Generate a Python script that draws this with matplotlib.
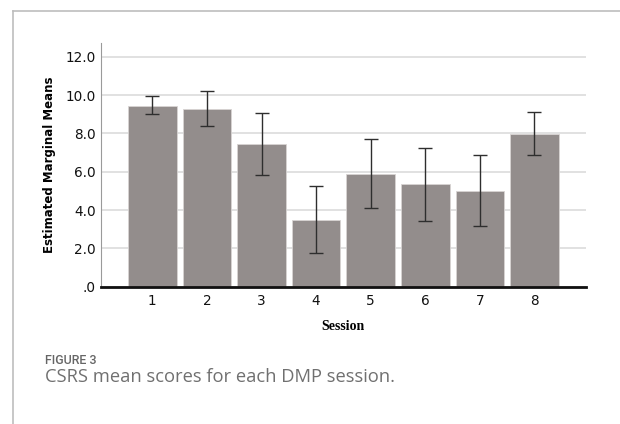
import matplotlib
matplotlib.use("Agg")
import matplotlib.pyplot as plt
from matplotlib.lines import Line2D

sessions = ["1", "2", "3", "4", "5", "6", "7", "8"]
means = [9.44, 9.29, 7.43, 3.48, 5.88, 5.34, 5.01, 7.98]
ci_upper = [9.95, 10.21, 9.06, 5.23, 7.69, 7.25, 6.85, 9.13]
ci_lower = [8.99, 8.40, 5.84, 1.77, 4.12, 3.44, 3.18, 6.89]
yticks = [0, 2, 4, 6, 8, 10, 12]
ytick_labels = [".0", "2.0", "4.0", "6.0", "8.0", "10.0", "12.0"]

fig = plt.figure(figsize=(6.2, 4.24), dpi=100)
ax = fig.add_axes([0.163, 0.3238, 0.7817, 0.574])

x = list(range(1, len(sessions) + 1))
yerr = [[m - lo for m, lo in zip(means, ci_lower)],
        [hi - m for m, hi in zip(means, ci_upper)]]

ax.bar(x, means, width=0.89, color="#938d8c", edgecolor="#d8d4d3", linewidth=0.6, zorder=2)
ax.errorbar(x, means, yerr=yerr, fmt="none", ecolor="#2e2e2e", elinewidth=1.0,
            capsize=5, capthick=1.0, zorder=3)

ax.set_xlim(0.06, 8.94)
ax.set_ylim(0, 12.7)
ax.set_xticks(x)
ax.set_xticklabels(sessions)
ax.set_yticks(yticks)
ax.set_yticklabels(ytick_labels)
ax.tick_params(axis="both", length=0, labelsize=9.8, colors="#111111")
ax.tick_params(axis="y", pad=4)
ax.tick_params(axis="x", pad=5)

ax.yaxis.grid(True, color="#dcdcdc", linewidth=1.2, zorder=0)
ax.set_axisbelow(True)
for s in ["top", "right"]:
    ax.spines[s].set_visible(False)
ax.spines["left"].set_color("#9a9a9a")
ax.spines["left"].set_linewidth(0.8)
ax.spines["bottom"].set_color("#111111")
ax.spines["bottom"].set_linewidth(2.0)
ax.spines["bottom"].set_zorder(4)

ax.set_ylabel("Estimated Marginal Means", fontsize=8.5, fontweight="bold", labelpad=7)
ax.set_xlabel("Session", fontsize=10, fontweight="bold", family="Liberation Serif", labelpad=9)

# Frame lines
fig.add_artist(Line2D([12.5 / 620, 12.5 / 620], [0, 1 - 10.5 / 424], transform=fig.transFigure,
                      color="#bdbdbd", linewidth=1.2))
fig.add_artist(Line2D([12.5 / 620, 1], [1 - 10.5 / 424, 1 - 10.5 / 424], transform=fig.transFigure,
                      color="#bdbdbd", linewidth=1.2))

fig.text(45 / 620, 1 - 364 / 424, "FIGURE 3", family="Roboto", fontweight="medium",
         fontsize=9, color="#666666", ha="left", va="baseline")
fig.text(45 / 620, 1 - 382 / 424, "CSRS mean scores for each DMP session.", family="Open Sans",
         fontsize=13.2, color="#707070", ha="left", va="baseline")

fig.savefig("out.png", dpi=100)
